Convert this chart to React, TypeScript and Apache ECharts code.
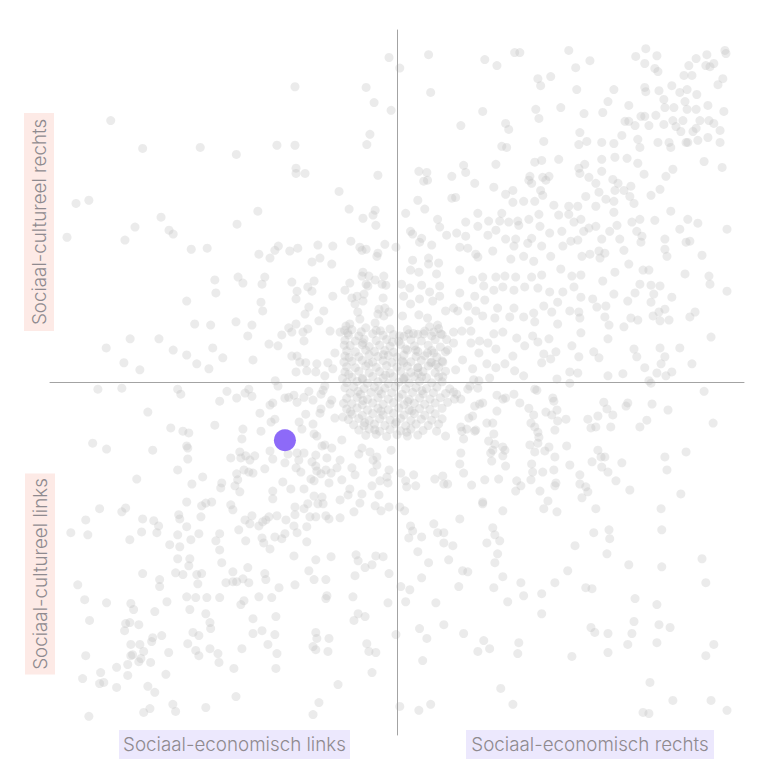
import React, { useEffect, useRef } from "react";
import * as echarts from "echarts";

// Scale: x = sociaal-economisch (links -100 … rechts 100), y = sociaal-cultureel (links -100 … rechts 100)
const topLeftPoints: number[][] = [
  [-2.3,92.2],[-29.4,83.9],[-8.9,83.7],[-6.6,79.4],[-1.7,77.2],[-82.5,74.3],[-73.3,66.4],[-56.7,66.7],[-46.3,64.7],[-34.6,67.3],[-29.4,67.3],[-7.8,70.4],[-8.7,67.5],[-29.1,60.8],[-29.1,59.3],[-26.5,59.3],[-5.5,58.8],[-16.7,54.2],[-92.5,50.8],[-88.8,51.7],[-95.1,41.2],[-78.4,40.4],[-75.5,44.1],[-68,46.9],[-65.7,43.2],[-64.5,42.1],[-46.1,44.9],[-40.1,48.6],[-13.8,49.2],[-9.8,46.6],[-6.9,47.5],[-6.3,48.9],[-6.1,44.6],[-59.3,37.8],[-54.7,38.1],[-39.8,36.4],[-36.6,35.3],[-35.2,37.5],[-34.2,38.7],[-30.9,37.3],[-28.6,38.1],[-22.8,39],[-18.5,38.7],[-24.5,34.2],[-22.2,35.3],[-18.8,33.6],[-13.3,40.1],[-10.7,38.4],[-8.9,37.8],[-10.1,37.5],[-5.5,36.7],[-5.8,35.8],[-3.5,39.2],[-0.3,38.4],[-52.5,29.1],[-52.2,25.4],[-45.8,29.9],[-44.4,28.2],[-38.1,29.9],[-38.9,27.9],[-30.3,28.5],[-28.8,25.9],[-29.1,23.7],[-25.7,27.1],[-24.5,25.9],[-23.9,28.8],[-18.5,24.5],[-15,26.2],[-13.6,28.2],[-9.8,31.3],[-10.1,30.2],[-8.1,30.2],[-8.9,27.9],[-8.4,27.4],[-6.3,29.1],[-3.8,30.2],[-4.3,27.9],[-3.2,27.6],[-60.6,23.1],[-39.2,22.8],[-38.7,20.3],[-25.4,21.4],[-26.5,19.4],[-21.1,20.3],[-22.5,17.5],[-13,24],[-11.5,24.5],[-12.1,22.3],[-9.5,25.1],[-9.8,23.1],[-11.3,20],[-10.7,18],[-4,24],[-5.2,20.8],[-3.5,21.1],[-2.3,20],[-5.5,19.4],[-3.8,18.9],[-6.3,16.9],[-58.3,16.6],[-53.7,16.3],[-46.4,17.2],[-41.8,16.3],[-43,13.2],[-31.2,15.5],[-30.3,14.3],[-29.1,16.6],[-27.1,14.3],[-25.7,15.2],[-26.8,11.8],[-33.2,13.5],[-36.9,10.9],[-34.3,10.4],[-19.3,14.6],[-16.4,14.3],[-14.7,16],[-13.6,16.6],[-83.8,9.8],[-76.9,12.4],[-68.6,12.4],[-64.5,9.2],[-60.6,7.8],[-53.1,9.8],[-50.2,7],[-57.7,5.3],[-54.2,3.9],[-41.5,6.4],[-78.7,5.6],[-74.1,3.6],[-30.3,7.5],[-28.8,7.5],[-28,5.8],[-26.3,5.6],[-23.1,5.3],[-19.9,5.6],[-17.9,8.4],[-18.5,3.9],[-29.1,3],[-26,3.3],[-23.4,3],[-20.8,1.9],[-35.1,0.5]
];

const topRightPoints: number[][] = [
  [0.8,89.2],[9.1,93],[9.7,82.3],[25.3,91.6],[28.8,89.9],[33.9,93.6],[35.4,93.6],[49.5,94.2],[55.6,91.3],[51.5,89.3],[40.6,86.2],[41.4,84.2],[44.3,86.8],[51.8,83.1],[62.5,83.1],[68.8,92.5],[71.7,94.7],[74.9,92.7],[71.4,90.5],[74.3,89.1],[75.2,88.2],[71.4,83.7],[71.7,82.5],[75.5,82.8],[79.2,84.2],[81.5,82.3],[83.6,83.1],[86.4,81.7],[82.7,87.1],[85,87.1],[84.1,89.9],[86.2,91.9],[89.3,93],[89,89.9],[90.2,89.6],[91.3,90.5],[94.5,94.2],[94.8,93.3],[93.9,86.2],[92.5,84.5],
  [18.4,72.9],[24.7,76.9],[31.3,73.5],[32.2,71.8],[40,77.5],[40.9,74.9],[47.2,78],[53.9,76.3],[59.3,76.6],[60.8,79.7],[66.8,78.6],[76.9,80.3],[77.2,78],[79.8,78],[83,79.7],[83.6,77.5],[86.2,77.5],[89.6,78.6],[94.2,76.9],[65.7,74.1],[66.8,74.1],[68.6,72.9],[70.3,75.5],[71.4,75.5],[72.6,72.9],[74.6,75.8],[76.9,73.2],[79.5,74.3],[80.4,72.6],[81.8,71.2],[82.4,74.3],[85.3,71.2],[86.2,72.1],[87.3,74.3],[89.9,74.3],[91.3,73.5],[93.1,71.5],[89.6,69.5],[86.7,68.7],[83.8,68.1],[83.3,68.1],[93.1,68.1],
  [30.2,67],[31.6,66.7],[42.3,68.4],[52.7,70.9],[52.4,67.5],[54.7,68.4],[59,68.1],[62.5,67.8],[64.8,70.1],[69.4,69],[70,66.7],[75.2,68.1],[78.4,68.1],[78.9,66.7],[88.5,62.7],[93.7,61],[28.5,61.9],[19.2,61.6],[19.8,59.6],[39.7,62.5],[41.7,63],[46.6,63.3],[59,63.3],[62.8,63.9],[66.3,63.6],[69.4,62.2],[71.2,59.1],[54.1,61.9],[52.4,60.8],[52.7,59.3],[59,59.9],[77.5,58.5],[79.5,60.5],
  [6.3,59.9],[8.6,59.6],[7.7,57.1],[8.8,57.4],[15.8,58.5],[22.4,56.5],[27.9,55.4],[15.8,52.3],[16.9,52.5],[6,51.7],[8,49.2],[2.5,48],[31.3,53.4],[33.4,54.5],[33.4,51.1],[36.5,51.4],[39.7,51.4],[38.3,58.5],[38,57.4],[38.8,56.5],[42,58.2],[42.9,57.4],[43.8,58.5],[41.4,54.5],[42,53.1],[45.2,50.3],[49.5,50],[52.1,50],[55.3,58.2],[57.3,56.5],[58.2,54],[54.4,52.8],[60.2,52],[62.2,57.6],[62.8,54.5],[63.7,56.5],[65.4,54.5],[67.4,55.7],[67.1,52.8],[68.3,50.8],[73.2,53.1],[75.8,54.8],[62.5,51.4],[57.3,50],[62.5,48.3],
  [78.9,48.6],[83.8,46.3],[86.7,45.2],[81.5,43.5],[95.1,43.5],[74.3,46],[70,46.3],[67.7,45.5],[69.1,42.9],[70.6,41.5],[70.3,39.8],[77.2,40.7],[77.2,37.8],[77.8,35.8],[83.3,39.8],[84.4,40.1],[87.9,36.1],[83,30.8],[89.9,30.2],[90.2,27.9],[95.1,25.9],[90.5,12.9],[81.5,9.8],[85,5.3],
  [11.7,46.3],[12.3,44.1],[3.9,42.9],[4.5,42.1],[7.1,40.9],[6.5,39.8],[10,39],[14.3,41.8],[17.2,42.4],[19.8,45.5],[19.8,41.5],[23.3,48],[23.3,44.3],[26.4,45.8],[26.2,41.8],[28.5,43.2],[30.2,48],[29.6,45.8],[32.2,45.5],[34.8,45.8],[35.1,44.6],[38,46.3],[40.9,47.7],[41.2,44.3],[44,42.4],[46.6,47.5],[47.5,42.9],[49.5,47.7],[51,45.5],[53,46.3],[53.8,42.9],[55.3,43.8],[57.3,44.3],[59,40.7],[61.3,42.9],[63.4,44.6],[64.2,40.7],[65.4,37.5],
  [31.3,40.7],[34.2,40.7],[38.8,40.9],[37.7,39.5],[41.7,38.7],[44.3,35.8],[47.8,38.7],[50.1,40.1],[52.1,40.4],[53.3,35.8],[55.6,36.4],[58.2,37.3],[58.5,35.3],[59.9,36.7],[66.8,33.6],[18.1,38.4],[20.4,38.1],[22.7,36.4],[23.3,35.6],[27.6,37.3],[32.8,35],[33.7,38.7],[36.5,35.8],[39.4,34.4],
  [4.5,34.7],[9.1,35.3],[9.1,33.6],[12,33.9],[3.9,31.9],[6.3,31.3],[11.4,30.8],[18.1,31.9],[21.8,29.1],[24.7,29.9],[28.5,29.9],[31.1,30.2],[34.2,29.9],[38.8,29.9],[41.7,30.5],[47.2,32.2],[50.4,30.2],[53,30.5],[59.3,28.8],[62.8,31.3],[70.9,31.9],[72.6,31.9],[70,27.9],[73.2,27.6],[75.8,27.4],
  [1.3,27.9],[3.7,26.8],[7.1,27.6],[9.4,25.7],[12.3,27.4],[18.1,25.4],[22.4,24.5],[25,27.4],[27.9,26.2],[30.5,27.1],[33.7,26.2],[36.8,27.1],[40.6,26.8],[44,25.7],[47.8,25.7],[51,27.1],[53,24.2],[56.4,23.7],[62.5,25.1],[68.6,25.4],[74,25.1],[79.2,24.2],
  [1.9,24.5],[3.9,22.3],[6.5,23.7],[10.3,23.1],[12.3,24.5],[16.3,21.1],[20.4,21.7],[22.7,20.3],[25.3,23.4],[29,21.1],[33.7,21.1],[39.4,19.7],[42.3,21.7],[46.3,22.8],[49.8,20.3],[52.4,20],[57.6,21.4],[60.2,21.7],[66.5,23.1],[73.2,22.8],[75.5,20],[77.2,20.8],
  [1.6,18.9],[6.3,19.2],[8.8,18.3],[14,20.3],[17.5,20.3],[20.7,17.5],[24.7,18.9],[28.2,18.3],[32.5,18.6],[36.5,18.6],[39.7,17.2],[44.6,20],[46.3,16.6],[52.7,18.3],[59.9,18.6],[61.1,16.3],[65.4,15.8],[67.4,18.3],[69.4,17.7],[73.8,18.9],[75.8,17.5],[78.4,17.7],[84.4,18.6],[85.9,20],
  [0.8,13.2],[3.4,13.8],[7.7,13.8],[10.6,14.3],[12.6,13.8],[11.7,16.3],[16.3,14.3],[18.7,14.6],[21.3,14.6],[16.3,11.2],[21.3,11.2],[23.8,11.8],[26.2,11.2],[27.9,13.8],[30.5,14.3],[34.5,12.6],[39.1,13.2],[40.6,11.5],[43.8,12.4],[53,14.1],[60.8,12.4],
  [2.5,9.5],[5.4,9.2],[10.6,8.4],[14.6,9.2],[18.9,6.4],[23.6,8.4],[28.5,9.5],[33.4,7.5],[36.8,10.4],[42.3,8.1],[45.8,8.7],[50.4,10.4],[52.4,7.3],[56.7,8.7],[58.2,7],[68.3,9.5],[69.1,7.3],[75.8,9.8],[77.2,7.3],
  [1.9,5.6],[6,4.2],[9.7,5.6],[13.2,5.8],[16.9,3.6],[21.8,3.9],[25.9,5.3],[28.5,4.2],[31.1,5.3],[33.9,3.3],[36.5,1.9],[41.7,5.6],[44.3,6.7],[49.8,3],[52.1,2.7],[60.8,1.9],[65.1,2.5],[71.4,4.2],[74.9,2.7],[77.5,1.9],[79.2,3],[76.1,5.3],[2.5,1.6],[7.1,1.6],[13.2,1.6],[22.1,0.8],[23.6,0.5],[26.7,1.3],[46.1,1],[72.6,0.5]
];

const bottomLeftPoints: number[][] = [
  [-86.2,-1.9],[-79.3,-1.6],[-63.2,-1.9],[-62.3,-3.3],[-71.8,-8.4],[-87.7,-17.2],[-83.7,-18.9],[-70.4,-19.2],[-65.2,-12.9],[-61.7,-13.8],[-60,-14.3],[-60.6,-18],[-60.3,-18.6],[-60.3,-21.7],[-63.2,-24.8],[-75,-27.4],[-52.5,-12.1],[-51.1,-5.3],[-49,-2.5],[-46.2,-4.4],[-43.8,-3],[-42.7,-1.9],[-41.8,-3.9],[-39.5,-8.7],[-36.6,-6.4],[-35.8,-5.8],[-34.3,-1],[-32.3,-4.4],[-31.2,-4.2],[-29.7,-3.6],[-28.8,-5.6],[-26.8,-4.2],[-25.4,-2.5],[-24.2,-5],[-21.9,-3.3],[-21.3,-2.2],[-20.8,-1],[-19.3,-6.1],[-18.8,-5],[-21.9,-7.5],[-22.2,-8.7],[-17.9,-10.1],[-26.3,-9],
  [-44.4,-13.2],[-39.2,-13.8],[-36.3,-11.2],[-35.2,-10.4],[-44.7,-16],[-28.2,-11.2],[-27.4,-13.2],[-24.2,-11.8],[-23.9,-14.6],[-23.1,-15.2],[-15.9,-16.3],[-47.9,-21.4],[-45.3,-19.7],[-45,-21.4],[-43.6,-20.8],[-42.4,-22],[-41,-20.8],[-38.1,-24.5],[-36.6,-19.4],[-35.8,-21.7],[-32.3,-22.8],[-31.4,-20.3],[-28.8,-20],[-28.3,-22],[-26.8,-20],[-29.1,-24.2],[-27.7,-25.4],[-24.5,-22.5],[-23.4,-20.6],[-21.6,-18],[-20.8,-17.7],[-18.8,-18.6],[-20.2,-21.4],[-23.4,-23.7],[-23.1,-25.1],[-21.9,-25.9],[-20.5,-24.8],[-19,-25.7],[-16.4,-22],[-17.3,-24.2],[-15.9,-27.6],
  [-46.2,-25.9],[-44.1,-24.8],[-42.7,-25.4],[-41.5,-25.7],[-45.9,-27.6],[-46.7,-29.3],[-50.5,-28.5],[-50.8,-29.9],[-45.3,-31],[-35.8,-30.8],[-35.8,-33],[-32.9,-28.2],[-30.6,-30.2],[-26.8,-30.2],[-24.8,-27.4],[-23.9,-27.9],[-19.6,-28.5],[-56,-26.8],[-59.1,-28.8],[-13,-24.2],[-12.1,-26.2],[-11,-20.3],[-10.1,-18.6],[-7.8,-19.7],[-6.9,-22],[-5.8,-23.4],[-6.9,-25.4],[-4.9,-27.9],[-7.2,-29.3],[-2.9,-26.8],[-2.3,-24.8],[-1.7,-19.2],[-5.8,-21.1],
  [-13.6,-30.2],[-10.1,-31.6],[-10.7,-34.2],[-14.1,-31.9],[-16.4,-33.3],[-5.2,-31.9],[-2.6,-28.5],[-2.3,-35.3],[-6.3,-35],[-4.6,-36.4],[-12.4,-36.7],[-16.4,-38.4],[-19.6,-38.7],[-20.5,-37.8],[-23.4,-38.1],[-25.1,-38.1],[-23.9,-32.2],[-21.6,-32.5],[-21.3,-34.4],[-22.8,-34.4],[-25.7,-34.4],[-26.8,-35.8],[-29.4,-35.3],[-29.4,-37.5],[-32,-39],[-34.6,-37.8],[-36.9,-38.1],[-37.8,-39],[-39.8,-40.7],[-38.7,-39.5],[-41.8,-37.8],[-43.8,-39],[-42.4,-40.1],
  [-29.7,-40.7],[-28.8,-42.6],[-26,-40.9],[-26,-45.2],[-32.3,-42.9],[-33.2,-44.3],[-35.2,-43.8],[-38.9,-44.1],[-38.4,-45.5],[-36.6,-47.2],[-43.6,-44.9],[-45.6,-41.8],[-47.9,-34.7],[-47.3,-36.1],[-52.2,-44.9],[-51.1,-42.9],[-51.1,-47.5],[-50.5,-51.1],[-56.3,-35],[-55.1,-34.2],[-53.4,-33.9],[-56.5,-38.1],[-60.6,-40.9],[-62.9,-37.5],[-62.6,-38.7],[-63.2,-43.2],[-62.6,-46.6],[-60.6,-33.9],[-65.5,-46],[-57.1,-42.9],[-59.4,-44.6],[-59.7,-50],[-60,-52],[-63.2,-50],[-61.7,-54.5],[-63.8,-54],[-57.7,-54.5],[-56.3,-54.2],[-57.4,-57.1],
  [-68.4,-55.9],[-68.4,-57.9],[-73.3,-54.2],[-66.3,-62.2],[-69.8,-65],[-60.6,-60.8],[-58,-61],[-54.8,-61],[-51.1,-61],[-49.3,-56.8],[-47.3,-56.5],[-46.2,-56.5],[-44.4,-55.7],[-42.7,-56.8],[-47.3,-53.7],[-43,-52.5],[-38.1,-54.2],[-37.8,-55.9],[-34,-58.2],[-29.4,-57.4],[-25.4,-53.4],[-23.9,-55.9],[-20.5,-55.9],[-23.4,-50.3],[-19,-49.4],[-12.1,-54.8],[-9.2,-52.5],[-7.2,-51.7],[-11.8,-48.9],[-11.2,-50.6],[-6.1,-49.2],[-4,-49.4],[-2.3,-54.2],[-2.6,-62.5],[-12.7,-60.8],[-20.2,-60.5],[-20.5,-61.3],[-39.8,-60.8],[-36.1,-61],[-45,-63],[-44.1,-61.9],[-29.7,-49.2],
  [-59.7,-64.4],[-55.1,-65.6],[-53.9,-68.1],[-53.7,-69.8],[-41.5,-67],[-34.9,-66.4],[-41.5,-71.2],[-38.9,-70.4],[-35.2,-71.5],[-37.2,-74.3],[-34.6,-76.9],[-34.9,-81.1],[-44.7,-75.5],[-47,-81.1],[-51.6,-76.9],[-51.3,-79.4],[-53.9,-75.5],[-57.1,-77.5],[-58,-76],[-60.3,-74.1],[-57.1,-71.8],[-58.8,-70.9],[-67.8,-71.8],[-70.4,-72.4],[-70.7,-73.5],[-73,-76.3],[-74.1,-74.3],[-76.7,-74.3],[-76.7,-77.5],[-76.2,-77.2],[-73.8,-78.3],[-74.4,-79.2],[-71,-79.4],[-65.8,-76.6],[-77.6,-80],[-77.6,-83.1],[-80.8,-80.8],[-85.4,-82.3],[-85.7,-85.4],[-84.5,-85.1],[-80.8,-86.5],[-90.6,-84],[-89.7,-77.5],[-71.8,-86.2],[-69.8,-87.9],[-66.6,-82.8],[-73,-93.6],[-71.2,-92.5],[-64.6,-91.3],[-63.8,-93.3],[-55.1,-92.2],[-46.4,-89.1],[-88.8,-94.7],
  [-88.6,-67.5],[-90,-61.6],[-92,-57.4],[-83.7,-62.5],[-76.7,-62.7],[-75.9,-64.4],[-78.2,-68.4],[-77,-68.1],[-78.5,-70.4],[-74.4,-68.7],[-94,-42.6],[-89.7,-39],[-89.1,-43.2],[-85.7,-35.8],[-79.3,-36.7],[-78.2,-35.6],[-77,-44.6],[-73.3,-38.7],[-73.6,-42.4],[-70.1,-39.2],[-68.7,-40.7],[-69.2,-42.6],
  [-23.4,-70.9],[-23.1,-72.6],[-19.6,-72.6],[-24.2,-74.9],[-23.4,-75.8],[-19.9,-76.3],[-12.4,-67.5],[-11.2,-65.6],[-9.2,-66.4],[-8.7,-74.1],[-8.1,-76.3],[-6.1,-76.6],[-7.2,-82.3],[-17,-85.7],[-22.5,-90.8],[-24.2,-94.2],[-0.3,-71.5]
];

const bottomRightPoints: number[][] = [
  [20.4,-1.9],[21,-1],[23.3,-1.6],[16.3,-2.7],[17.2,-3.3],[18.4,-4.7],[16.6,-4.7],[28.8,-3.6],[30.5,-4.7],[31.3,-4.4],[33.7,-3.3],[39.7,-1.9],[40.3,-2.2],[44.9,-4.4],[45.2,-5.3],[49.8,-0.2],[73.2,-0.2],[88.5,-2.5],[22.4,-6.7],[24.7,-5.8],[23.8,-6.1],[28.8,-8.1],[35.4,-5.8],[38,-7.3],[39.4,-9.2],[42.9,-8.4],[44.6,-9.2],[46.1,-7.8],[46.3,-10.9],[45.5,-13.5],[48.7,-10.4],
  [20.7,-10.1],[21.8,-9.5],[25.9,-11.5],[27.6,-11.5],[18.4,-12.6],[18.7,-13.8],[20.1,-13.2],[22.4,-13.8],[22.7,-13.5],[14,-15.2],[19.2,-16],[27.9,-14.6],[26.4,-16.6],[28.2,-17.5],[30.5,-18.3],[31.1,-19.2],[27.6,-19.2],[27,-20],[30.5,-20.8],[27.3,-22.3],[31.3,-23.7],[18.4,-20],[18.1,-23.1],[19.2,-25.7],
  [38.6,-11.5],[39.7,-12.6],[40.6,-14.1],[40.9,-15.5],[40.6,-17.2],[38.3,-17.7],[39.7,-19.7],[42.6,-19.4],[43.8,-18.3],[45.5,-21.1],[38.8,-23.1],[39.1,-25.4],[42,-25.4],[45.2,-24.8],[48.9,-18],[49.8,-23.4],[52.7,-26.2],[52.7,-28.8],[54.4,-29.6],[55,-31],[53.3,-32.7],[45.8,-28.5],[45.5,-29.3],[46.1,-36.7],[42.3,-35.8],[43.5,-33.6],[41.2,-30.8],[38.6,-27.6],[35.7,-29.3],[34.5,-27.9],[34.2,-30.8],[29.3,-27.4],[25.3,-27.6],[21.5,-29.1],[14.6,-28.8],[13.5,-28.8],[13.2,-26.5],[10.9,-27.4],[5.4,-29.3],[2.8,-29.6],[2.5,-27.9],[4.8,-26.2],[1.1,-25.7],[24.7,-33.9],[24.7,-34.4],[30.5,-36.4],[18.1,-38.7],[0.8,-35.3],[2.2,-36.4],
  [55,-10.4],[55.9,-12.9],[57.3,-12.6],[57.9,-9.5],[59.6,-5.6],[60.5,-7.5],[62.2,-9.2],[61.6,-12.6],[66,-6.7],[66.5,-5.8],[73.5,-6.1],[78.1,-7.8],[72,-10.7],[70,-12.6],[91.1,-11.5],[57.9,-19.2],[58.8,-21.1],[59.9,-21.1],[56.2,-22.5],[59,-24],[60.8,-25.4],[63.1,-27.9],[64.8,-22.8],[67.1,-30.5],[57.3,-35.8],[77.2,-21.1],[77.8,-24.8],[83.3,-19.7],[81.8,-31.6],[76.1,-35.8],[76.3,-41.8],[76.3,-52.3],[87.9,-50],[89,-56.8],
  [61.1,-41.8],[61.3,-44.3],[56.7,-42.6],[60.5,-48.6],[51.3,-46.3],[49.2,-53.4],[54.4,-58.2],[56.2,-58.5],[66.8,-51.7],[68.6,-61.3],[74.9,-63],[68.3,-67.8],[67.7,-71.2],[66.5,-74.3],[75.5,-68.7],[78.7,-69.5],[74.9,-73.8],[60.8,-71.2],[60.8,-76.6],[55.9,-69.5],[57,-70.9],[50.4,-77.7],[91.3,-74.3],[89,-77.5],[72.9,-85.1],[79.5,-90.2],[90.5,-90.2],[95.1,-93],[70.9,-93.6],[72.6,-93.9],
  [41.7,-59.9],[41.7,-65.6],[36.5,-60.5],[35.7,-56.8],[45.5,-56.8],[31.9,-62.2],[27.9,-58.2],[30.5,-55.1],[28.2,-51.1],[29,-48.6],[25.9,-45.5],[28.2,-43.2],[29.6,-44.9],[27.6,-41.2],[18.9,-53.4],[20.4,-53.7],[17.8,-57.9],[14.9,-50.3],[16.1,-46.3],[13.5,-45.5],[13.5,-42.6],[11.7,-42.6],[10.6,-40.1],[7.1,-43.8],[4.5,-42.1],[3.9,-40.7],[3.4,-44.1],[6,-48],[9.1,-51.1],[7.1,-55.4],[1.1,-57.9],[3.7,-58.8],[2.5,-62.2],[11.2,-62.5],[6.5,-69.8],[8.6,-72.6],[13.5,-68.7],[19.2,-71.2],[25,-73.2],[26.7,-75.5],[23.3,-76.3],[35.1,-73.8],[34.8,-76.9],[7.4,-78.9],[29.9,-86.8],[0.8,-91.9],[6.3,-93],[9.7,-91.3],[33.4,-91.3]
];

const centerPoints: number[][] = [
  [-13,15],[-9,15.5],[-6,14.8],[-2,15.2],[3,15],[8,14.6],[12,15.3],
  [-14,13.5],[-11,13.2],[-7,13.8],[-4,13.4],[-1,13.6],[2,13.1],[6,13.7],[10,13.2],[13,13.6],
  [-15,12],[-12,11.8],[-9.5,12.3],[-6,11.9],[-3,12.2],[0.5,11.7],[4,12.1],[7,11.8],[11,12.2],
  [-13.5,10.5],[-10,10.7],[-8,10.2],[-5,10.6],[-2,10.3],[1,10.8],[5,10.4],[9,10.6],[12.5,10.1],
  [-14.5,9],[-12,8.7],[-9,9.2],[-6.5,8.8],[-3.5,9.1],[-1,8.6],[3,9.2],[6,8.8],[10,9.1],[14,8.7],
  [-15,7.5],[-11,7.3],[-8,7.8],[-5.5,7.4],[-2.5,7.7],[0,7.2],[2,7.8],[5.5,7.4],[8,7.6],[11.5,7.2],
  [-13,6],[-10,6.3],[-7,5.8],[-4,6.2],[-1.5,5.7],[1.5,6.1],[4,5.9],[7,6.3],[10,5.8],[13,6.1],
  [-14.5,4.5],[-12,4.2],[-9,4.7],[-6,4.3],[-3,4.8],[0,4.4],[3,4.6],[6,4.2],[9,4.7],[12,4.3],
  [-15,3],[-11,3.2],[-8,2.8],[-5,3.1],[-2,2.7],[1,3.2],[4,2.9],[7.5,3.1],[11,2.8],[14,3.2],
  [-13,1.5],[-10,1.2],[-7,1.7],[-4,1.3],[-1,1.6],[2,1.2],[5,1.7],[8.5,1.4],[12,1.6],
  [-14.5,0],[-11.5,0.3],[-8.5,-0.2],[-5.5,0.2],[-2.5,-0.3],[0.5,0.1],[3.5,-0.2],[6.5,0.3],[10,-0.1],[13,0.2],
  [-15,-1.5],[-12.5,-1.2],[-9.5,-1.7],[-6.5,-1.3],[-3.5,-1.6],[-0.5,-1.2],[2.5,-1.8],[5.5,-1.4],[8.5,-1.7],[11.5,-1.3],
  [-13.5,-3],[-10.5,-3.3],[-7.5,-2.8],[-4.5,-3.2],[-1.5,-2.9],[1.5,-3.3],[4.5,-2.8],[7.5,-3.2],[10.5,-2.9],[14,-3.1],
  [-14.5,-4.5],[-11.5,-4.2],[-8.5,-4.8],[-5.5,-4.3],[-2.5,-4.7],[0.5,-4.2],[3.5,-4.8],[6.5,-4.4],[9.5,-4.7],[12.5,-4.3],
  [-13,-6],[-10,-6.3],[-7,-5.8],[-4,-6.2],[-1,-5.7],[2,-6.3],[5,-5.9],[8,-6.2],[11,-5.8],
  [-14.5,-7.5],[-11.5,-7.2],[-8.5,-7.8],[-5.5,-7.3],[-2.5,-7.7],[0.5,-7.2],[3.5,-7.8],[6.5,-7.4],[9.5,-7.6],[13,-7.3],
  [-13,-9],[-10,-9.3],[-7,-8.8],[-4,-9.2],[-1,-8.7],[2,-9.2],[5,-8.8],[8,-9.3],[11,-8.9],
  [-14,-10.5],[-11,-10.2],[-8,-10.8],[-5,-10.3],[-2,-10.7],[1,-10.2],[4,-10.8],[7,-10.4],[10,-10.7],[13,-10.3],
  [-12.5,-12],[-9.5,-12.3],[-6.5,-11.8],[-3.5,-12.2],[-0.5,-11.7],[2.5,-12.3],[5.5,-11.8],[9,-12.2],[12,-11.8],
  [-11,-13.5],[-8,-13.2],[-5,-13.8],[-2,-13.3],[1,-13.7],[4,-13.2],[7.5,-13.6],
  [-9,-15],[-6,-14.7],[-3,-15.3],[0,-14.8],[3,-15.2],[6,-14.9]
];

const centerExtraPoints: number[][] = [
  [-14.2,14.1],[-10.3,14.4],[-4.8,14.7],[4.7,13.9],[9.4,15.8],[14.3,12.2],
  [-9.8,11.3],[-1.3,11.5],[-13.8,7.1],[-3.9,7.9],[8.8,8.4],[-8.2,5.4],[11.2,5.1],
  [-13.9,2.3],[-3.3,2.1],[6.1,2.6],[-9.9,0.9],[1.9,0.9],[15.2,-1.8],
  [-11.2,-2.5],[-5.2,-2.3],[7.2,-2.3],[-9.8,-5.1],[3.1,-5.4],[14.6,-5.6],
  [-13.4,-8.3],[-4.6,-8.1],[4.3,-8.1],[-9.3,-11.4],[-0.2,-11.2],[11.4,-13.8],
  [-6.4,-13.4],[2.8,-14.1],[-15.3,5.8],[-15.4,-5.9],[-15.6,-9.8],[-15.2,10.6],[-15.7,1.2],[-15.1,14.8]
];

const highlightPoint: number[] = [-32.3, -16.4];

const labelCultureRight = "Sociaal-cultureel rechts";
const labelCultureLeft = "Sociaal-cultureel links";
const labelEconLeft = "Sociaal-economisch links";
const labelEconRight = "Sociaal-economisch rechts";

const TEXT_COLOR = "#8f8a8f";
const FONT = "Inter, 'Noto Sans', sans-serif";
const FONT_SIZE = 18.8;

export default function App() {
  const ref = useRef<HTMLDivElement>(null);

  useEffect(() => {
    document.body.style.margin = "0";
    if (!ref.current) return;
    const chart = echarts.init(ref.current, undefined, { renderer: "svg" });

    const allPoints = [
      ...topLeftPoints,
      ...topRightPoints,
      ...bottomLeftPoints,
      ...bottomRightPoints,
      ...centerPoints,
      ...centerExtraPoints,
    ];

    const axisCommon = {
      type: "value" as const,
      min: -100,
      max: 100,
      z: 5,
      axisLine: { onZero: true, lineStyle: { color: "#a3a3a3", width: 1 } },
      axisTick: { show: false },
      axisLabel: { show: false },
      splitLine: { show: false },
    };

    const vLabel = (text: string, cx: number, cy: number, w: number, h: number) => [
      {
        type: "rect",
        shape: { x: cx - w / 2, y: cy - h / 2, width: w, height: h },
        style: { fill: "#fdeae6" },
        silent: true,
      },
      {
        type: "text",
        x: cx,
        y: cy,
        rotation: Math.PI / 2,
        style: {
          text,
          fill: TEXT_COLOR,
          fontSize: FONT_SIZE,
          fontWeight: 300,
          fontFamily: FONT,
          align: "center",
          verticalAlign: "middle",
        },
        silent: true,
      },
    ];

    const hLabel = (text: string, cx: number, cy: number, w: number, h: number) => [
      {
        type: "rect",
        shape: { x: cx - w / 2, y: cy - h / 2, width: w, height: h },
        style: { fill: "#ece8fd" },
        silent: true,
      },
      {
        type: "text",
        x: cx,
        y: cy,
        style: {
          text,
          fill: TEXT_COLOR,
          fontSize: FONT_SIZE,
          fontWeight: 300,
          fontFamily: FONT,
          align: "center",
          verticalAlign: "middle",
        },
        silent: true,
      },
    ];

    chart.setOption({
      animation: false,
      grid: { left: 50, right: 29, top: 30, bottom: 47 },
      xAxis: axisCommon,
      yAxis: axisCommon,
      series: [
        {
          type: "scatter",
          data: allPoints,
          symbolSize: 9,
          itemStyle: { color: "#bdbdbd", opacity: 0.3 },
          silent: true,
          z: 2,
        },
        {
          type: "scatter",
          data: [highlightPoint],
          symbolSize: 22,
          itemStyle: { color: "#8d6af8", opacity: 1 },
          z: 10,
        },
      ],
      graphic: [
        ...vLabel(labelCultureRight, 39, 222, 30, 218),
        ...vLabel(labelCultureLeft, 40, 574, 30, 201),
        ...hLabel(labelEconLeft, 234.5, 744.5, 231, 29),
        ...hLabel(labelEconRight, 590, 744.5, 248, 29),
      ],
    });

    return () => chart.dispose();
  }, []);

  return <div ref={ref} style={{ width: 773, height: 782 }} />;
}
